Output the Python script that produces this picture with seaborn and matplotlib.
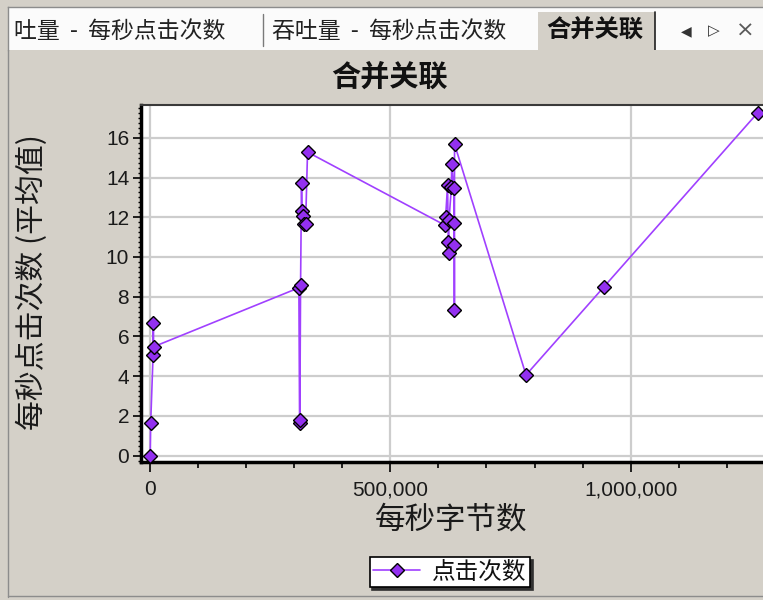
"""
合并关联 chart - hits per second vs bytes per second
"""

import numpy as np
import pandas as pd
import matplotlib
matplotlib.use('Agg')
import matplotlib.pyplot as plt
import seaborn as sns
from matplotlib.lines import Line2D
from matplotlib.patches import Rectangle
from matplotlib.ticker import MultipleLocator, FuncFormatter

# ===========================
# DATA
# ===========================
tab_titles = ['吐量  -  每秒点击次数', '吞吐量  -  每秒点击次数', '合并关联']
chart_title = '合并关联'
x_label = '每秒字节数'
y_label = '每秒点击次数 (平均值)'
series_name = '点击次数'

bytes_per_sec = [0, 1000, 6000, 6500, 7000,
                 309500, 311000, 311500, 313000, 315000, 316000, 318500,
                 320000, 323500, 327500,
                 613500, 615000, 619000, 620500, 621000, 622000, 627000,
                 627600, 632000, 632500, 633000, 633200, 633500,
                 782300, 944600, 1264600]
hits_per_sec = [0.0, 1.65, 5.07, 6.69, 5.48,
                8.45, 1.63, 1.8, 8.6, 13.7, 12.33, 12.08,
                11.65, 11.67, 15.28,
                11.6, 12.03, 13.62, 10.77, 10.18, 11.86, 13.53,
                14.68, 13.45, 11.69, 10.6, 7.33, 15.68,
                4.06, 8.5, 17.26]

x_ticks = [0, 500000, 1000000]
y_ticks = [0, 2, 4, 6, 8, 10, 12, 14, 16]

df = pd.DataFrame({x_label: bytes_per_sec, series_name: hits_per_sec})

# ===========================
# STYLE
# ===========================
sns.set_theme(style='white')
plt.rcParams['font.family'] = ['Noto Sans CJK SC', 'DejaVu Sans']

win_gray = '#D4D0C8'
W, H = 763, 600

fig = plt.figure(figsize=(W / 100, H / 100), dpi=100, facecolor=win_gray)

# ===========================
# TAB STRIP
# ===========================
tab_ax = fig.add_axes([8 / W, 1 - 50 / H, (W - 8) / W, 43 / H])
tab_ax.set_xlim(8, W)
tab_ax.set_ylim(50, 7)
tab_ax.set_facecolor('#FBFBFB')
tab_ax.set_xticks([])
tab_ax.set_yticks([])
for side in ['right', 'bottom']:
    tab_ax.spines[side].set_visible(False)
for side in ['top', 'left']:
    tab_ax.spines[side].set_color('#8C8C8C')
    tab_ax.spines[side].set_linewidth(1)

tab_ax.add_patch(Rectangle((538, 12), 117, 40, facecolor=win_gray, edgecolor='none'))
tab_ax.plot([263, 263], [14, 46], color='#7A7A7A', lw=1)
tab_ax.plot([655, 655], [12, 50], color='#202020', lw=1.2)

tab_ax.text(14, 31, tab_titles[0], fontsize=16.5, color='#222222',
            ha='left', va='center')
tab_ax.text(272, 31, tab_titles[1], fontsize=16.5, color='#222222',
            ha='left', va='center')
tab_ax.text(546, 31, tab_titles[2], fontsize=17.5, fontweight='bold',
            color='#111111', ha='left', va='center')
tab_ax.text(686, 31, '◀', fontsize=10, color='#333333', ha='center', va='center',
            family=['DejaVu Sans'])
tab_ax.text(714, 31, '▷', fontsize=11, color='#333333', ha='center', va='center',
            family=['DejaVu Sans'])
tab_ax.text(745, 31, '×', fontsize=16, color='#5A5A5A', ha='center', va='center',
            family=['DejaVu Sans'])

# window frame lines
fig.add_artist(Line2D([8 / W, 8 / W], [0.005, 1 - 50 / H], transform=fig.transFigure,
                      color='#8C8C8C', lw=1))
fig.add_artist(Line2D([8 / W, 1], [1 - 596 / H, 1 - 596 / H], transform=fig.transFigure,
                      color='#8C8C8C', lw=1))

# ===========================
# MAIN PLOT
# ===========================
ax = fig.add_axes([141 / W, 1 - 462 / H, 633 / W, 357 / H])
ax.set_facecolor('white')

sns.lineplot(data=df, x=x_label, y=series_name, ax=ax, sort=False, estimator=None,
             color='#A040FF', linewidth=1.2, marker='D', markersize=7.5,
             markerfacecolor='#9330F0', markeredgecolor='black', markeredgewidth=1.0,
             label=series_name, zorder=3)

ax.set_xlim(-19150, 1298500)
ax.set_ylim(-0.32, 17.65)

ax.set_xticks(x_ticks)
ax.xaxis.set_minor_locator(MultipleLocator(100000))
ax.set_yticks(y_ticks)
ax.yaxis.set_minor_locator(MultipleLocator(0.25))
ax.xaxis.set_major_formatter(FuncFormatter(lambda v, p: f'{int(v):,}'))

ax.grid(True, which='major', color='#CDCDCD', linewidth=1.6)
ax.set_axisbelow(True)

ax.tick_params(axis='both', which='both', direction='out', colors='black',
               labelcolor='#1A1A1A', bottom=True, left=True)
ax.tick_params(axis='x', which='major', length=7, width=1.2, pad=6, labelsize=15)
ax.tick_params(axis='x', which='minor', length=4, width=1.2)
ax.tick_params(axis='y', which='major', length=5.5, width=1.2, pad=3, labelsize=15)
ax.tick_params(axis='y', which='minor', length=2.5, width=1)
for lab in ax.get_xticklabels() + ax.get_yticklabels():
    lab.set_family(['Liberation Sans', 'DejaVu Sans'])

for side in ['left', 'bottom']:
    ax.spines[side].set_color('black')
    ax.spines[side].set_linewidth(2.5)
ax.spines['top'].set_color('#3A3A3A')
ax.spines['top'].set_linewidth(1.5)
ax.spines['right'].set_visible(False)

ax.set_xlabel('')
ax.set_ylabel('')

# titles and axis labels
fig.text(389 / W, 1 - 77 / H, chart_title, fontsize=21, fontweight='bold',
         ha='center', va='center', color='#111111')
fig.text(451 / W, 1 - 520 / H, x_label, fontsize=22, ha='center', va='center',
         color='#1A1A1A')
fig.text(32 / W, 1 - 282 / H, y_label, fontsize=21.5, rotation=90,
         ha='center', va='center', color='#1A1A1A')

# legend
leg = ax.legend(loc='center', bbox_to_anchor=(450 / W, 1 - 572 / H),
                bbox_transform=fig.transFigure, frameon=True, fancybox=False,
                shadow={'color': '#303030', 'alpha': 1}, edgecolor='black',
                facecolor='white', framealpha=1, fontsize=17, handlelength=2.0,
                borderpad=0.15, handletextpad=0.5, borderaxespad=0)
leg.get_frame().set_linewidth(1.2)
for t in leg.get_texts():
    t.set_color('#111111')

plt.savefig('out.png', dpi=100, facecolor=win_gray)
print("Saved: out.png")
